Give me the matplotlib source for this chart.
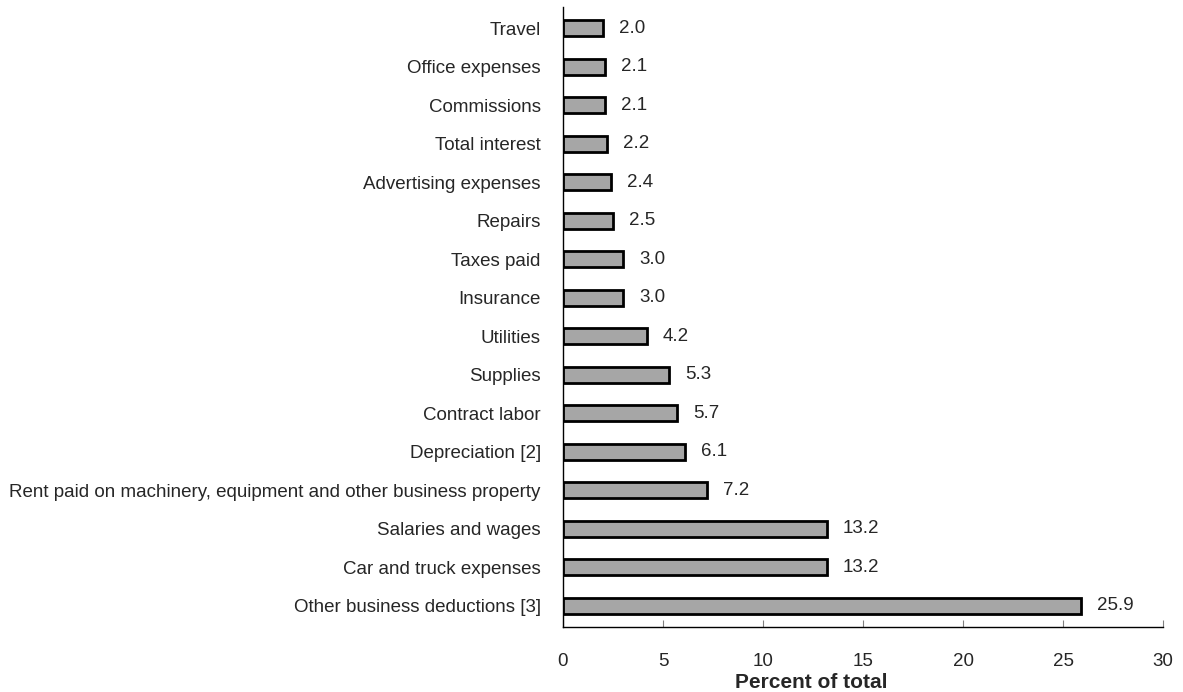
import matplotlib
matplotlib.use("Agg")
import matplotlib.pyplot as plt
import numpy as np

plt.rcParams['font.family'] = ['Liberation Sans', 'DejaVu Sans']

categories = [
    "Other business deductions [3]",
    "Car and truck expenses",
    "Salaries and wages",
    "Rent paid on machinery, equipment and other business property",
    "Depreciation [2]",
    "Contract labor",
    "Supplies",
    "Utilities",
    "Insurance",
    "Taxes paid",
    "Repairs",
    "Advertising expenses",
    "Total interest",
    "Commissions",
    "Office expenses",
    "Travel",
]
values = [25.9, 13.2, 13.2, 7.2, 6.1, 5.7, 5.3, 4.2, 3.0, 3.0, 2.5, 2.4, 2.2, 2.1, 2.1, 2.0]
xticks = [0, 5, 10, 15, 20, 25, 30]

text_color = "#262626"
fs = 13.5

fig = plt.figure(figsize=(11.83, 6.92), dpi=100)
ax = fig.add_axes([563 / 1183, 1 - 627 / 692, 600 / 1183, 620 / 692])

y = np.arange(len(categories))
ax.barh(y, values, height=0.42, color="#A6A6A6", edgecolor="black", linewidth=2)

for yi, v in zip(y, values):
    ax.annotate(f"{v:.1f}", (v, yi), xytext=(11.5, 0), textcoords="offset points",
                va="center", ha="left", fontsize=fs, color=text_color)

ax.set_xlim(0, 30)
ax.set_ylim(-0.55, len(categories) - 0.45)
ax.set_xticks(xticks)
ax.set_xticklabels([str(t) for t in xticks])
ax.set_yticks(y)
ax.set_yticklabels(categories)

ax.tick_params(axis="x", direction="in", length=5, color="#808080", pad=19,
               labelsize=fs, labelcolor=text_color)
ax.tick_params(axis="y", length=0, pad=16, labelsize=fs, labelcolor=text_color)

ax.spines["top"].set_visible(False)
ax.spines["right"].set_visible(False)
ax.spines["left"].set_color("black")
ax.spines["bottom"].set_color("black")
ax.spines["left"].set_linewidth(1)
ax.spines["bottom"].set_linewidth(1)

# the axis title sits left of the axes centre in the original
fig.text(811 / 1183, 1 - 682 / 692, "Percent of total", fontsize=15, fontweight="bold",
         color=text_color, ha="center", va="center")

fig.savefig("out.png", dpi=100)
